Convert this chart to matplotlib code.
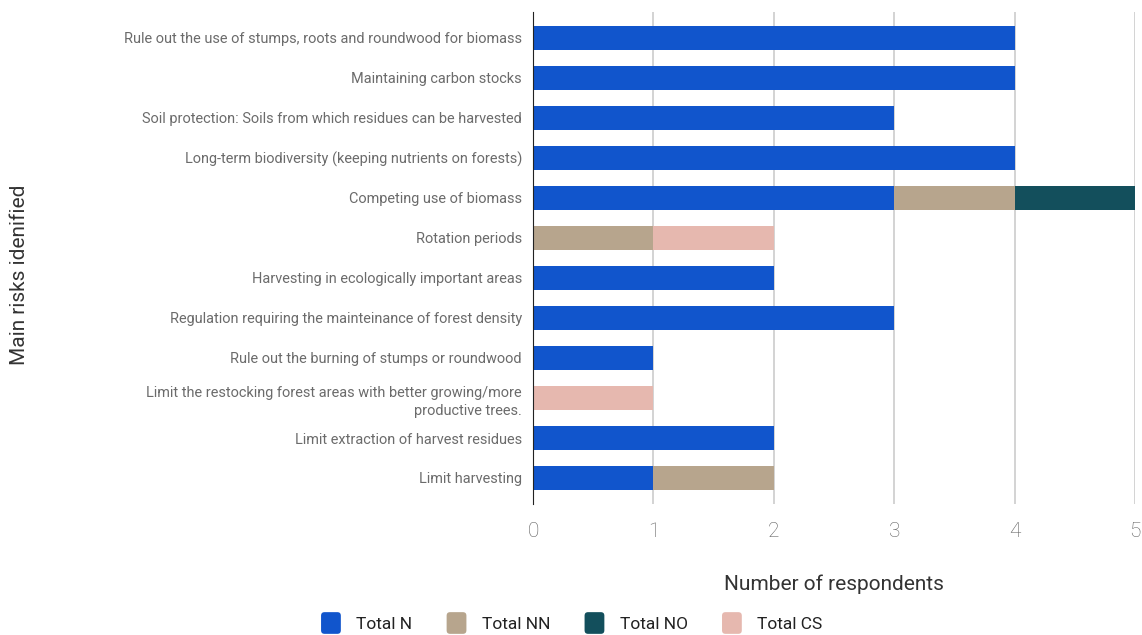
import numpy as np
import matplotlib; matplotlib.use('Agg')
import matplotlib.pyplot as plt
from matplotlib.patches import FancyBboxPatch
from matplotlib.legend_handler import HandlerPatch

plt.rcParams['font.family'] = ['Roboto', 'DejaVu Sans']

# ---- data ----
risks = ["Rule out the use of stumps, roots and roundwood for biomass",
         "Maintaining carbon stocks",
         "Soil protection: Soils from which residues can be harvested",
         "Long-term biodiversity (keeping nutrients on forests)",
         "Competing use of biomass",
         "Rotation periods",
         "Harvesting in ecologically important areas",
         "Regulation requiring the mainteinance of forest density",
         "Rule out the burning of stumps or roundwood",
         "Limit the restocking forest areas with better growing/more\nproductive trees.",
         "Limit extraction of harvest residues",
         "Limit harvesting"]
total_n  = [4, 4, 3, 4, 3, 0, 2, 3, 1, 0, 2, 1]
total_nn = [0, 0, 0, 0, 1, 1, 0, 0, 0, 0, 0, 1]
total_no = [0, 0, 0, 0, 1, 0, 0, 0, 0, 0, 0, 0]
total_cs = [0, 0, 0, 0, 0, 1, 0, 0, 0, 1, 0, 0]
series = [("Total N", total_n, '#1155cc'),
          ("Total NN", total_nn, '#b7a58d'),
          ("Total NO", total_no, '#134f5c'),
          ("Total CS", total_cs, '#e6b8af')]

W, H = 1142, 635
fig = plt.figure(figsize=(W/100, H/100), dpi=100)
ax = fig.add_axes([533/W, 1-504/H, (1135-533)/W, (504-12)/H])

y = np.arange(len(risks))
left = np.zeros(len(risks))
for name, vals, col in series:
    vals = np.array(vals, dtype=float)
    ax.barh(y, vals, left=left, height=0.62, color=col, zorder=3, label=name)
    left += vals

ax.set_xlim(0, 5)
ax.set_ylim(len(risks)-0.5+0.15, -0.5-0.15)
ax.set_xticks(range(6))
ax.xaxis.grid(True, color='#cccccc', lw=1.2, zorder=0)
for s in ['top', 'right', 'bottom']:
    ax.spines[s].set_visible(False)
ax.spines['left'].set_color('#222222')
ax.spines['left'].set_zorder(4)
ax.set_yticks(y)
ax.set_yticklabels(risks, fontsize=10.45, color='#6b6b6b', linespacing=1.45)
ax.tick_params(axis='y', length=0, pad=8)
ax.tick_params(axis='x', length=0, pad=13, labelsize=15, labelcolor='#606060')
for t in ax.get_xticklabels():
    t.set_fontweight('light')

ax.set_xlabel('Number of respondents', fontsize=15, color='#333333', labelpad=24)
fig.text(20/W, 1-275/H, 'Main risks idenified', rotation=90, fontsize=15,
         color='#333333', ha='center', va='center')


class RoundBox(HandlerPatch):
    def create_artists(self, legend, orig, xd, yd, w, h, fs, trans):
        p = FancyBboxPatch((-xd + 1, -yd - 1), w - 2, h + 2,
                           boxstyle='round,pad=0,rounding_size=2.5',
                           facecolor=orig.get_facecolor(), edgecolor='none',
                           transform=trans)
        return [p]


handles = [plt.Rectangle((0, 0), 1, 1, facecolor=c, label=n) for n, _, c in series]
fig.legend(handles=handles, loc='center', bbox_to_anchor=(571/W, 1-623/H), ncol=4,
           frameon=False, fontsize=12.5, handlelength=1.3, handleheight=1.3,
           columnspacing=1.9, handletextpad=0.8, labelcolor='#222222',
           handler_map={plt.Rectangle: RoundBox()})

plt.savefig('out.png', dpi=100)
